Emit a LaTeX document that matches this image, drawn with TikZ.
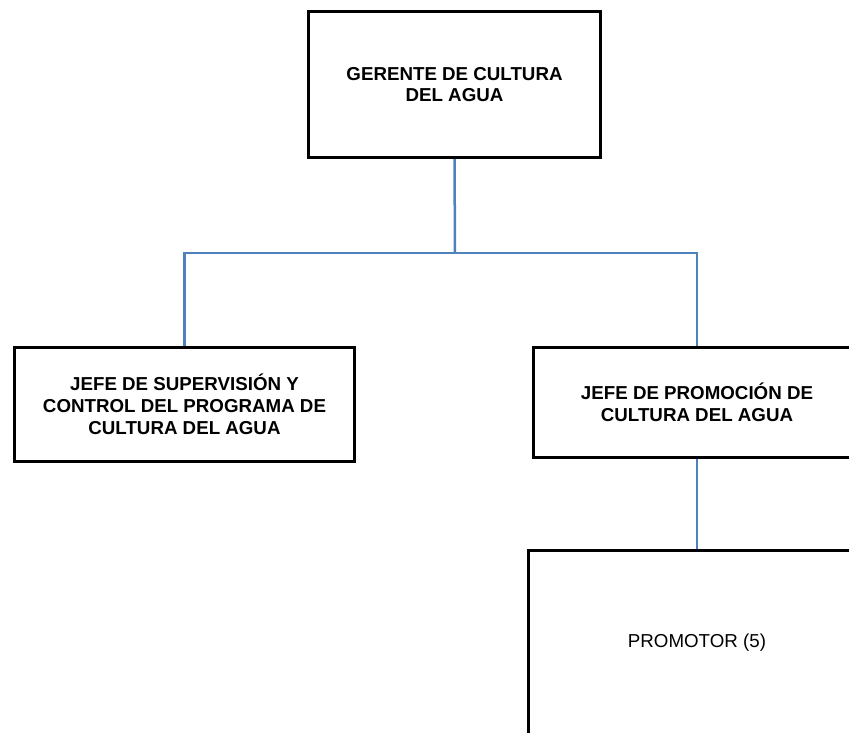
\documentclass[tikz,border=0pt]{standalone}
\usepackage{fontspec}
\setmainfont{Liberation Sans}
\definecolor{conn}{HTML}{4F81BD}
\begin{document}
\begin{tikzpicture}[x=1bp,y=-1bp,
  box/.style={draw=black, line width=3bp, align=center, inner sep=0pt,
    font=\fontsize{18.8}{21.8}\selectfont\bfseries},
  plainbox/.style={box, font=\fontsize{18.8}{21.8}\selectfont},
  link/.style={draw=conn, line width=2.5bp}]
\useasboundingbox (0,0) rectangle (849,733);
\clip (0,0) rectangle (849,733);
\node[box, minimum width=292bp, minimum height=146bp] (ger) at (454.5,84.5) {GERENTE DE CULTURA\\DEL AGUA};
\node[box, minimum width=340bp, minimum height=114bp] (sup) at (184.5,404.5) {JEFE DE SUPERVISIÓN Y\\CONTROL DEL PROGRAMA DE\\CULTURA DEL AGUA};
\node[box, minimum width=328bp, minimum height=110bp] (pro) at (697,402.5) {JEFE DE PROMOCIÓN DE\\CULTURA DEL AGUA};
\node[plainbox, minimum width=338bp, minimum height=186bp] (prm) at (697,643) {PROMOTOR (5)};
\coordinate (j) at (455,253);
\draw[link] (ger.south) -- (j);
\draw[link] (sup.north) |- (j) -| (pro.north);
\draw[link] (pro.south) -- (prm.north);
\end{tikzpicture}
\end{document}
